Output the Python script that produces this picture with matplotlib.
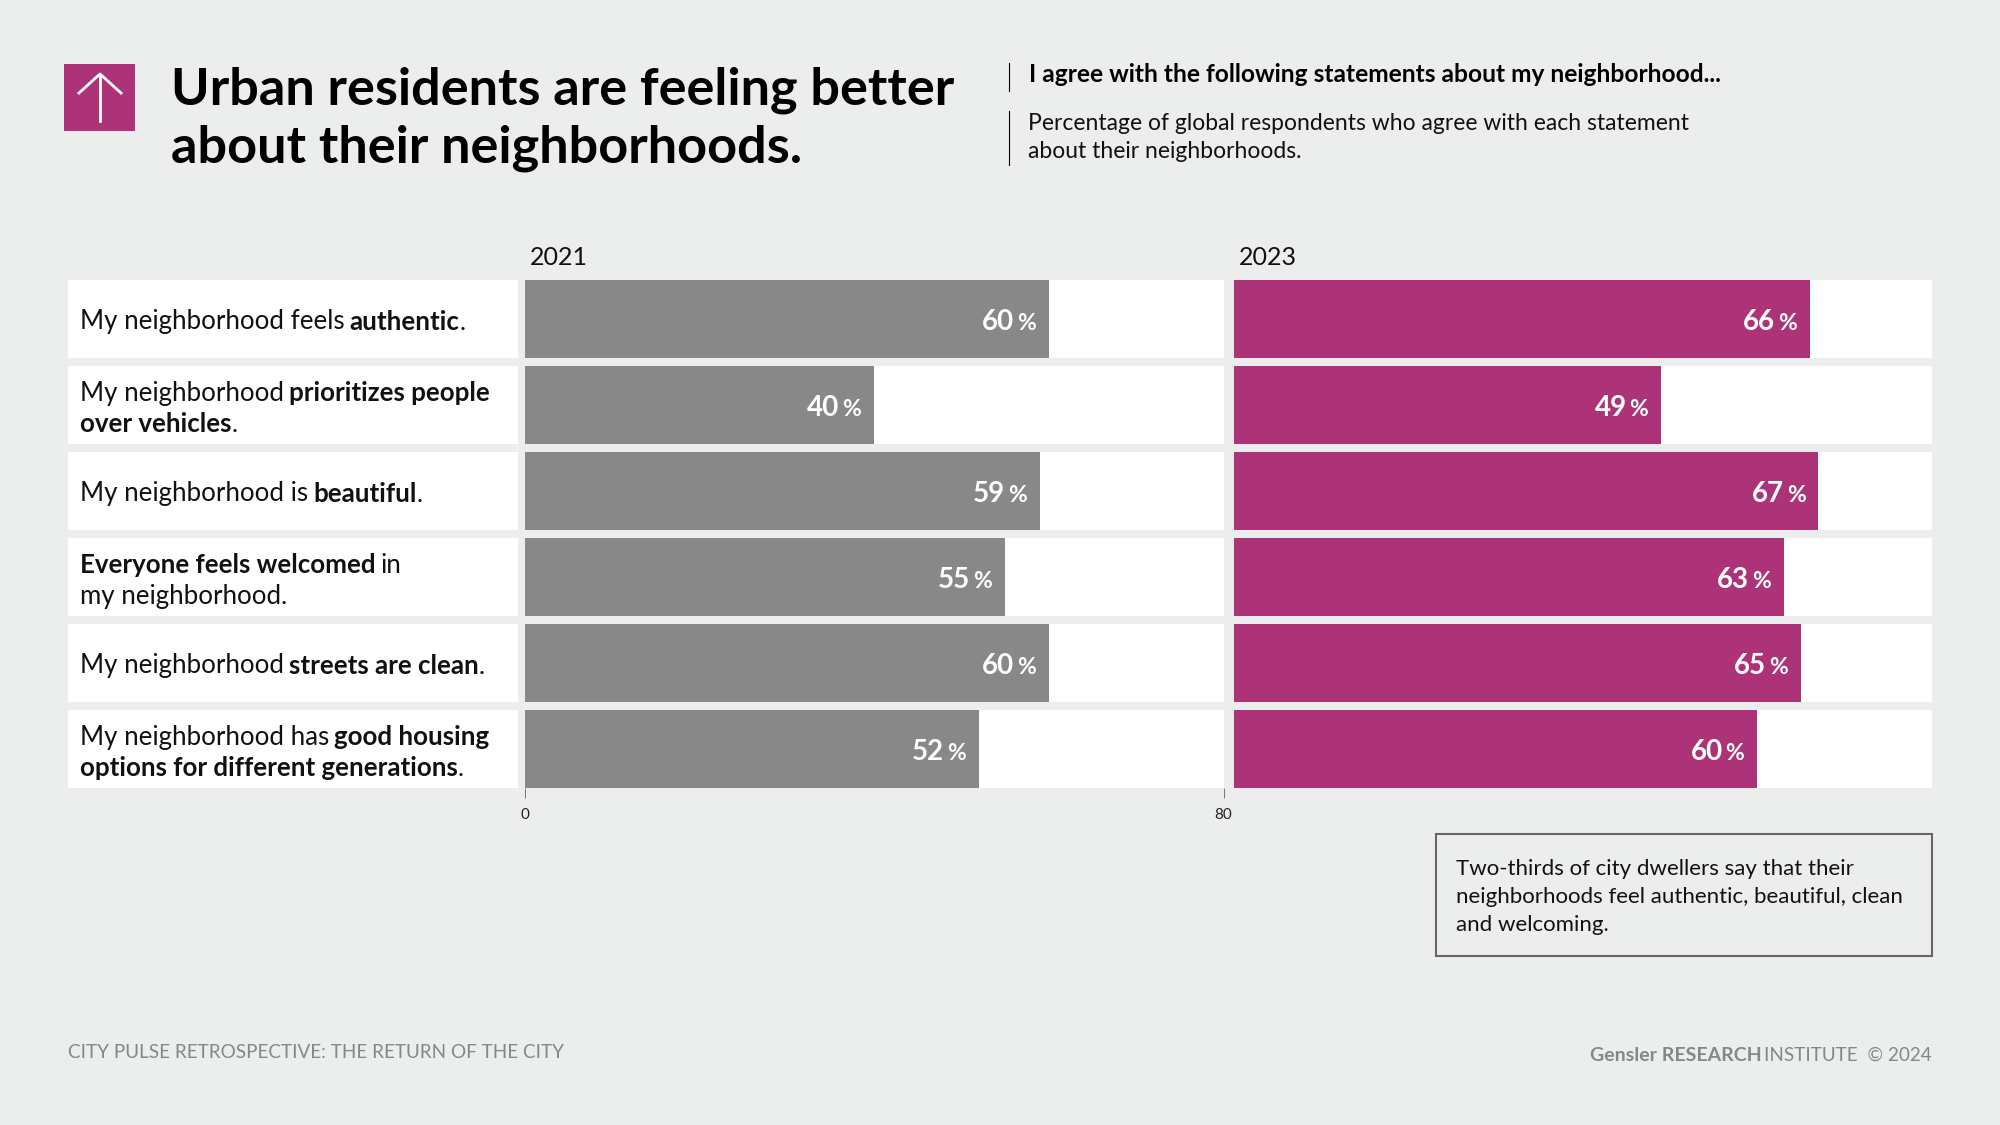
import matplotlib; matplotlib.use("Agg")
import matplotlib.pyplot as plt
from matplotlib.patches import Rectangle

plt.rcParams['font.family']=['Lato','DejaVu Sans']
W,H=2000,1125
BG='#ECEEED'; GREY='#888888'; PINK='#AD3379'; FOOT='#85878A'

# data
years=['2021','2023']
v2021=[60,40,59,55,60,52]
v2023=[66,49,67,63,65,60]
statements=[
 [[('My neighborhood feels',0),(' authentic',1),('.',0)]],
 [[('My neighborhood',0),(' prioritizes people',1)],[('over vehicles',1),('.',0)]],
 [[('My neighborhood is',0),(' beautiful',1),('.',0)]],
 [[('Everyone feels welcomed',1),(' in',0)],[('my neighborhood.',0)]],
 [[('My neighborhood',0),(' streets are clean',1),('.',0)]],
 [[('My neighborhood has',0),(' good housing',1)],[('options for different generations',1),('.',0)]],
]
title=['Urban residents are feeling better','about their neighborhoods.']
sub_bold='I agree with the following statements about my neighborhood...'
sub_light=['Percentage of global respondents who agree with each statement','about their neighborhoods.']
note=['Two-thirds of city dwellers say that their','neighborhoods feel authentic, beautiful, clean','and welcoming.']

fig=plt.figure(figsize=(20,11.25),dpi=100,facecolor=BG)
rend=fig.canvas.get_renderer()

def txt(x,y,s,size,bold=0,color='#111111',ha='left'):
    # x,y in pixels from the top left, y is the baseline
    return fig.text(x/W,1-y/H,s,fontsize=size,fontweight='bold' if bold else 'normal',color=color,ha=ha,va='baseline')

def width(t):
    return t.get_window_extent(rend).width

def runs(x,y,parts,size,color='#111111'):
    # mixed weight text on one line, parts are (text, bold)
    for s,b in parts:
        if s.startswith(' '):
            x+=size*0.2*100/72
        t=txt(x,y,s.strip(),size,b,color)
        x+=width(t)-0.5
    return x

def box(x0,y0,x1,y1,**kw):
    fig.add_artist(Rectangle((x0/W,1-y1/H),(x1-x0)/W,(y1-y0)/H,transform=fig.transFigure,**kw))

# icon
box(64,64,135,131,fc=PINK,ec='none')
fig.add_artist(plt.Line2D([100/W,100/W],[1-75/H,1-121/H],color='white',lw=2))
fig.add_artist(plt.Line2D([79/W,100/W,121/W],[1-93/H,1-74/H,1-93/H],color='white',lw=2))

# header
for y,s in zip([105,162],title):
    txt(171,y,s,37.6,1,'black')
for y0,y1 in [(63,91),(111,165)]:
    fig.add_artist(plt.Line2D([1008.5/W]*2,[1-y0/H,1-y1/H],color='black',lw=0.8))
txt(1029,82,sub_bold,17.65,1,'black')
for y,s in zip([129.5,157.5],sub_light):
    txt(1028.5,y,s,16.45)

# rows
pitch,bar_h=86,78
h=bar_h/pitch
for i,lines in enumerate(statements):
    top=280+i*pitch
    box(68,top,518,top+bar_h,fc='white',ec='none')
    mid=top+bar_h/2
    ys=[mid+10.5] if len(lines)==1 else [mid-4,mid+27]
    for y,parts in zip(ys,lines):
        runs(80.5,y,parts,18.6)

def panel(x0,x1,vals,year,color,ticks):
    ax=fig.add_axes([x0/W,1-788/H,(x1-x0)/W,(788-280)/H])
    ax.set_xlim(0,80); ax.set_ylim(5+h/2,-h/2)
    ax.patch.set_alpha(0)
    ypos=range(len(vals))
    ax.barh(ypos,[80]*len(vals),height=h,color='white')
    ax.barh(ypos,vals,height=h,color=color)
    for y,v in zip(ypos,vals):
        ax.annotate('%',(v,y),xytext=(-9.4,-8),textcoords='offset points',color='white',fontsize=16.5,fontweight='bold',ha='right',va='baseline')
        ax.annotate(str(v),(v,y),xytext=(-25,-8),textcoords='offset points',color='white',fontsize=20,fontweight='bold',ha='right',va='baseline')
    ax.annotate(year,(0,1),xycoords='axes fraction',xytext=(4,11),textcoords='offset points',fontsize=18,va='baseline',color='#111111')
    for sp in ax.spines.values(): sp.set_visible(False)
    ax.set_yticks([])
    if ticks:
        ax.set_xticks([0,80])
        ax.tick_params(axis='x',length=7.2,width=0.7,color='#777777',labelsize=11,pad=7,labelcolor='#222222')
    else:
        ax.set_xticks([])

panel(524.5,1223.5,v2021,years[0],GREY,True)
panel(1233.5,1932,v2023,years[1],PINK,False)

# callout
box(1435.5,833.5,1932,956,fc='none',ec='#666666',lw=1.5)
for y,s in zip([875,903,931],note):
    txt(1456,y,s,16)

# footer
txt(68,1058,'CITY PULSE RETROSPECTIVE: THE RETURN OF THE CITY',13.6,0,FOOT)
t=txt(1932,1061,'INSTITUTE  © 2024',13.6,0,FOOT,ha='right')
txt(1932-width(t)-3,1061,'Gensler RESEARCH',14,1,FOOT,ha='right')

fig.savefig('out.png',dpi=100,facecolor=BG)
